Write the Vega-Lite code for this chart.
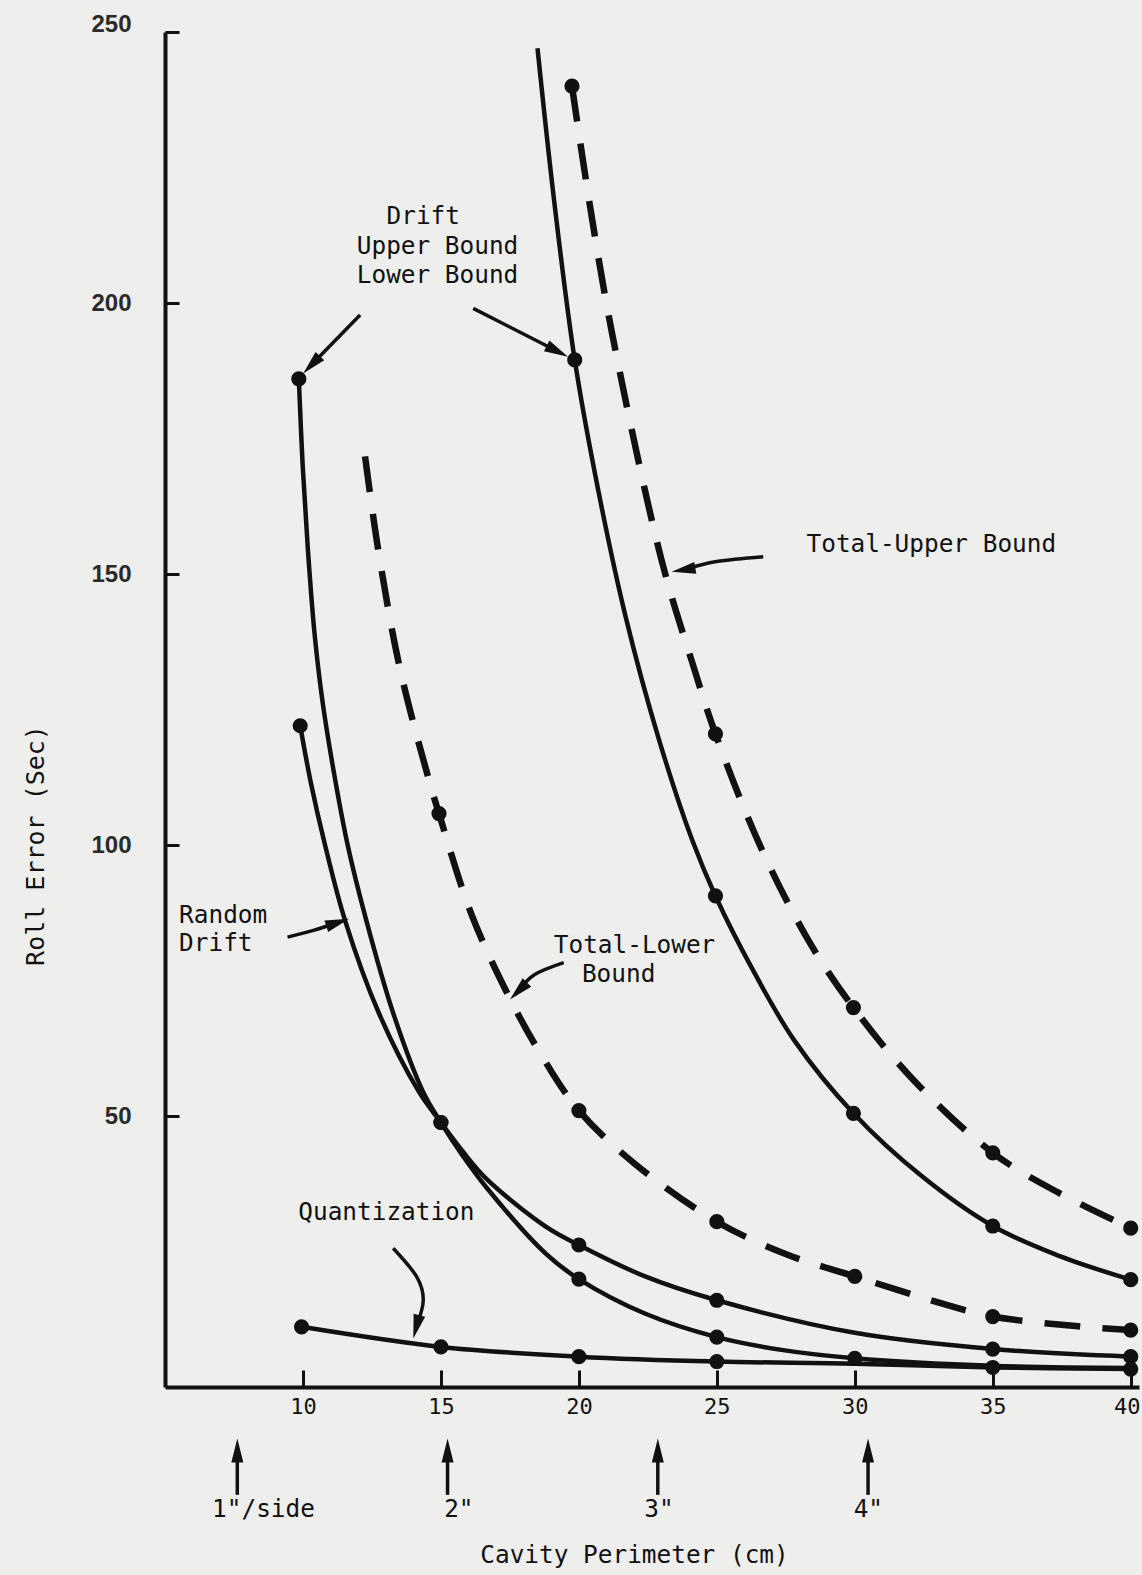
{
  "$schema": "https://vega.github.io/schema/vega-lite/v6.json",
  "width": 974,
  "height": 1355,
  "autosize": {"type": "none"},
  "padding": {"left": 165, "top": 32, "right": 3, "bottom": 188},
  "background": "#eeeeec",
  "config": {"view": {"stroke": null}},
  "datasets": {
    "curves": [
      {"series": "DU", "x": 18.5, "y": 247, "dot": false},
      {"series": "DU", "x": 19.1, "y": 219, "dot": false},
      {"series": "DU", "x": 19.85, "y": 189.5, "dot": true},
      {"series": "DU", "x": 20.7, "y": 165.5, "dot": false},
      {"series": "DU", "x": 21.7, "y": 142, "dot": false},
      {"series": "DU", "x": 22.9, "y": 119.5, "dot": false},
      {"series": "DU", "x": 24.1, "y": 101, "dot": false},
      {"series": "DU", "x": 24.95, "y": 90.6, "dot": true},
      {"series": "DU", "x": 26.3, "y": 77, "dot": false},
      {"series": "DU", "x": 27.8, "y": 64, "dot": false},
      {"series": "DU", "x": 29.95, "y": 50.5, "dot": true},
      {"series": "DU", "x": 32.4, "y": 39, "dot": false},
      {"series": "DU", "x": 35, "y": 29.7, "dot": true},
      {"series": "DU", "x": 37.4, "y": 24.2, "dot": false},
      {"series": "DU", "x": 40, "y": 19.8, "dot": true},

      {"series": "TU", "x": 19.75, "y": 240, "dot": true},
      {"series": "TU", "x": 20.4, "y": 218, "dot": false},
      {"series": "TU", "x": 21.2, "y": 194.5, "dot": false},
      {"series": "TU", "x": 23.0, "y": 152.5, "dot": false},
      {"series": "TU", "x": 24.15, "y": 133, "dot": false},
      {"series": "TU", "x": 24.95, "y": 120.5, "dot": true},
      {"series": "TU", "x": 26.6, "y": 99.5, "dot": false},
      {"series": "TU", "x": 28.4, "y": 81.7, "dot": false},
      {"series": "TU", "x": 29.95, "y": 70, "dot": true},
      {"series": "TU", "x": 32.1, "y": 56.8, "dot": false},
      {"series": "TU", "x": 35, "y": 43.2, "dot": true},
      {"series": "TU", "x": 37.4, "y": 35.8, "dot": false},
      {"series": "TU", "x": 40, "y": 29.3, "dot": true},

      {"series": "DL", "x": 9.85, "y": 186, "dot": true},
      {"series": "DL", "x": 9.99, "y": 170, "dot": false},
      {"series": "DL", "x": 10.18, "y": 154.4, "dot": false},
      {"series": "DL", "x": 10.42, "y": 139, "dot": false},
      {"series": "DL", "x": 10.7, "y": 126.8, "dot": false},
      {"series": "DL", "x": 11.1, "y": 114, "dot": false},
      {"series": "DL", "x": 11.62, "y": 100, "dot": false},
      {"series": "DL", "x": 12.3, "y": 86, "dot": false},
      {"series": "DL", "x": 13.27, "y": 69, "dot": false},
      {"series": "DL", "x": 14.35, "y": 54.5, "dot": false},
      {"series": "DL", "x": 15, "y": 48.8, "dot": true},
      {"series": "DL", "x": 15.8, "y": 42.6, "dot": false},
      {"series": "DL", "x": 16.65, "y": 36.8, "dot": false},
      {"series": "DL", "x": 18.8, "y": 24.6, "dot": false},
      {"series": "DL", "x": 20, "y": 19.9, "dot": true},
      {"series": "DL", "x": 22.37, "y": 13.6, "dot": false},
      {"series": "DL", "x": 25, "y": 9.2, "dot": true},
      {"series": "DL", "x": 27.4, "y": 6.8, "dot": false},
      {"series": "DL", "x": 30, "y": 5.3, "dot": true},
      {"series": "DL", "x": 35, "y": 3.9, "dot": false},
      {"series": "DL", "x": 40, "y": 3.5, "dot": false},

      {"series": "RD", "x": 9.9, "y": 122, "dot": true},
      {"series": "RD", "x": 10.29, "y": 111.4, "dot": false},
      {"series": "RD", "x": 10.8, "y": 100, "dot": false},
      {"series": "RD", "x": 11.53, "y": 86, "dot": false},
      {"series": "RD", "x": 12.75, "y": 69, "dot": false},
      {"series": "RD", "x": 14.2, "y": 54.5, "dot": false},
      {"series": "RD", "x": 15, "y": 48.8, "dot": true},
      {"series": "RD", "x": 15.8, "y": 43.4, "dot": false},
      {"series": "RD", "x": 16.65, "y": 38.4, "dot": false},
      {"series": "RD", "x": 18.8, "y": 29.6, "dot": false},
      {"series": "RD", "x": 20, "y": 26.2, "dot": true},
      {"series": "RD", "x": 22.4, "y": 20.4, "dot": false},
      {"series": "RD", "x": 25, "y": 16, "dot": true},
      {"series": "RD", "x": 30, "y": 10, "dot": false},
      {"series": "RD", "x": 35, "y": 7, "dot": true},
      {"series": "RD", "x": 40, "y": 5.6, "dot": true},

      {"series": "TL", "x": 12.25, "y": 171.7, "dot": false},
      {"series": "TL", "x": 12.73, "y": 154.4, "dot": false},
      {"series": "TL", "x": 13.5, "y": 132.9, "dot": false},
      {"series": "TL", "x": 14.5, "y": 113.2, "dot": false},
      {"series": "TL", "x": 14.93, "y": 105.8, "dot": true},
      {"series": "TL", "x": 16.1, "y": 87.3, "dot": false},
      {"series": "TL", "x": 17.4, "y": 72.7, "dot": false},
      {"series": "TL", "x": 18.55, "y": 62, "dot": false},
      {"series": "TL", "x": 20, "y": 51, "dot": true},
      {"series": "TL", "x": 22, "y": 41.3, "dot": false},
      {"series": "TL", "x": 25, "y": 30.5, "dot": true},
      {"series": "TL", "x": 27.56, "y": 24.4, "dot": false},
      {"series": "TL", "x": 30, "y": 20.4, "dot": true},
      {"series": "TL", "x": 33.3, "y": 15.2, "dot": false},
      {"series": "TL", "x": 35, "y": 13, "dot": true},
      {"series": "TL", "x": 38.1, "y": 11.2, "dot": false},
      {"series": "TL", "x": 40, "y": 10.5, "dot": true},

      {"series": "Q", "x": 9.95, "y": 11.1, "dot": true},
      {"series": "Q", "x": 15, "y": 7.4, "dot": true},
      {"series": "Q", "x": 20, "y": 5.6, "dot": true},
      {"series": "Q", "x": 25, "y": 4.7, "dot": true},
      {"series": "Q", "x": 30, "y": 4.3, "dot": false},
      {"series": "Q", "x": 35, "y": 3.6, "dot": true},
      {"series": "Q", "x": 40, "y": 3.3, "dot": true}
    ],
    "leftLabels": [
      {"x": 13.03, "y": 215.9, "text": "Drift"},
      {"x": 11.95, "y": 210.4, "text": "Upper Bound"},
      {"x": 11.95, "y": 204.9, "text": "Lower Bound"},
      {"x": 28.25, "y": 155.35, "text": "Total-Upper Bound"},
      {"x": 5.51, "y": 86.9, "text": "Random"},
      {"x": 5.51, "y": 81.7, "text": "Drift"},
      {"x": 19.09, "y": 81.3, "text": "Total-Lower"},
      {"x": 20.11, "y": 76.0, "text": "Bound"},
      {"x": 9.83, "y": 32.1, "text": "Quantization"}
    ],
    "sideLabels": [
      {"x": 8.57, "y": -22.7, "text": "1\"/side"},
      {"x": 15.65, "y": -22.7, "text": "2\""},
      {"x": 22.9, "y": -22.7, "text": "3\""},
      {"x": 30.49, "y": -22.7, "text": "4\""}
    ],
    "arrows": [
      {"id": "A1", "k": 0, "x": 16.17, "y": 199.0},
      {"id": "A1", "k": 1, "x": 19.22, "y": 191.1},
      {"id": "A2", "k": 0, "x": 12.07, "y": 197.8},
      {"id": "A2", "k": 1, "x": 10.31, "y": 188.6},
      {"id": "A3", "k": 0, "x": 26.68, "y": 153.2},
      {"id": "A3", "k": 1, "x": 24.99, "y": 152.3},
      {"id": "A3", "k": 2, "x": 23.79, "y": 150.76},
      {"id": "A4", "k": 0, "x": 19.45, "y": 78.3},
      {"id": "A4", "k": 1, "x": 18.4, "y": 76.1},
      {"id": "A4", "k": 2, "x": 17.81, "y": 73.07},
      {"id": "A5", "k": 0, "x": 9.44, "y": 83.0},
      {"id": "A5", "k": 1, "x": 10.35, "y": 84.2},
      {"id": "A5", "k": 2, "x": 11.26, "y": 85.7},
      {"id": "A6", "k": 0, "x": 13.27, "y": 25.6},
      {"id": "A6", "k": 1, "x": 14.12, "y": 20.35},
      {"id": "A6", "k": 2, "x": 14.36, "y": 16.05},
      {"id": "A6", "k": 3, "x": 14.11, "y": 11.1},
      {"id": "B1", "k": 0, "x": 7.62, "y": -19.9},
      {"id": "B1", "k": 1, "x": 7.62, "y": -11.7},
      {"id": "B2", "k": 0, "x": 15.24, "y": -19.9},
      {"id": "B2", "k": 1, "x": 15.24, "y": -11.7},
      {"id": "B3", "k": 0, "x": 22.86, "y": -19.9},
      {"id": "B3", "k": 1, "x": 22.86, "y": -11.7},
      {"id": "B4", "k": 0, "x": 30.48, "y": -19.9},
      {"id": "B4", "k": 1, "x": 30.48, "y": -11.7}
    ],
    "heads": [
      {"x": 19.22, "y": 191.1, "angle": 117},
      {"x": 10.31, "y": 188.6, "angle": 224.2},
      {"x": 23.79, "y": 150.76, "angle": 260.7},
      {"x": 17.81, "y": 73.07, "angle": 224.9},
      {"x": 11.26, "y": 85.7, "angle": 71.9},
      {"x": 14.11, "y": 11.1, "angle": 194.7},
      {"x": 7.62, "y": -11.7, "angle": 0},
      {"x": 15.24, "y": -11.7, "angle": 0},
      {"x": 22.86, "y": -11.7, "angle": 0},
      {"x": 30.48, "y": -11.7, "angle": 0}
    ]
  },
  "encoding": {
    "x": {
      "field": "x", "type": "quantitative",
      "scale": {"domain": [5, 40.3], "nice": false, "zero": false},
      "axis": {
        "values": [10, 15, 20, 25, 30, 35, 40],
        "title": "Cavity Perimeter (cm)",
        "grid": false,
        "tickSize": -17, "tickWidth": 3, "tickColor": "#111",
        "domainColor": "#111", "domainWidth": 4,
        "labelFont": "DejaVu Sans Mono", "labelFontSize": 22, "labelColor": "#111",
        "labelPadding": 26, "labelFlush": false,
        "labelOffset": {"condition": {"test": "datum.value == 40", "value": -4}, "value": 0},
        "titleFont": "DejaVu Sans Mono", "titleFontSize": 24.4, "titleFontWeight": "normal",
        "titleColor": "#111", "titleX": 469, "titleY": 168,
        "titleBaseline": "middle", "titleAlign": "center"
      }
    },
    "y": {
      "field": "y", "type": "quantitative",
      "scale": {"domain": [0, 250], "nice": false, "zero": false},
      "axis": {
        "values": [50, 100, 150, 200, 250],
        "title": "Roll Error (Sec)",
        "grid": false,
        "tickSize": -14, "tickWidth": 3, "tickColor": "#111",
        "domainColor": "#111", "domainWidth": 4,
        "labelFont": "Liberation Sans", "labelFontWeight": "bold", "labelFontSize": 24,
        "labelColor": "#2a2a2a", "labelPadding": 48,
        "labelOffset": {"condition": {"test": "datum.value == 250", "value": -8}, "value": 0},
        "titleFont": "DejaVu Sans Mono", "titleFontSize": 25, "titleFontWeight": "normal",
        "titleColor": "#111", "titleAngle": 270, "titleX": -130, "titleY": 813,
        "titleBaseline": "middle", "titleAlign": "center"
      }
    }
  },
  "layer": [
    {
      "data": {"values": [{"v": 100}]},
      "mark": {"type": "rule", "color": "#111", "strokeWidth": 2.5},
      "encoding": {
        "x": {"datum": 5},
        "x2": {"datum": 40.1},
        "y": {"datum": 100}
      }
    },
    {
      "data": {"name": "curves"},
      "transform": [{"filter": {"field": "series", "oneOf": ["DU", "DL", "RD", "Q"]}}],
      "mark": {"type": "line", "interpolate": "catmull-rom", "strokeWidth": 4.5, "color": "#111"},
      "encoding": {"detail": {"field": "series"}}
    },
    {
      "data": {"name": "curves"},
      "transform": [{"filter": {"field": "series", "oneOf": ["TU", "TL"]}}],
      "mark": {"type": "line", "interpolate": "catmull-rom", "strokeWidth": 6.5, "color": "#111", "strokeDash": [36, 22]},
      "encoding": {"detail": {"field": "series"}}
    },
    {
      "data": {"name": "curves"},
      "transform": [{"filter": "datum.dot"}],
      "mark": {"type": "point", "filled": true, "size": 230, "color": "#111", "opacity": 1}
    },
    {
      "data": {"name": "arrows"},
      "mark": {"type": "line", "interpolate": "cardinal", "strokeWidth": 3.5, "color": "#111"},
      "encoding": {
        "detail": {"field": "id"},
        "order": {"field": "k", "type": "quantitative"}
      }
    },
    {
      "data": {"name": "heads"},
      "mark": {"type": "point", "filled": true, "opacity": 1, "color": "#111", "size": 576, "shape": "M0,-1L-0.5,1L0.5,1Z"},
      "encoding": {
        "angle": {"field": "angle", "type": "quantitative", "scale": null}
      }
    },
    {
      "data": {"name": "leftLabels"},
      "mark": {"type": "text", "align": "left", "baseline": "middle", "font": "DejaVu Sans Mono", "fontSize": 24.4, "color": "#111"},
      "encoding": {"text": {"field": "text"}}
    },
    {
      "data": {"name": "sideLabels"},
      "mark": {"type": "text", "align": "center", "baseline": "middle", "font": "DejaVu Sans Mono", "fontSize": 24.4, "color": "#111"},
      "encoding": {"text": {"field": "text"}}
    }
  ]
}
